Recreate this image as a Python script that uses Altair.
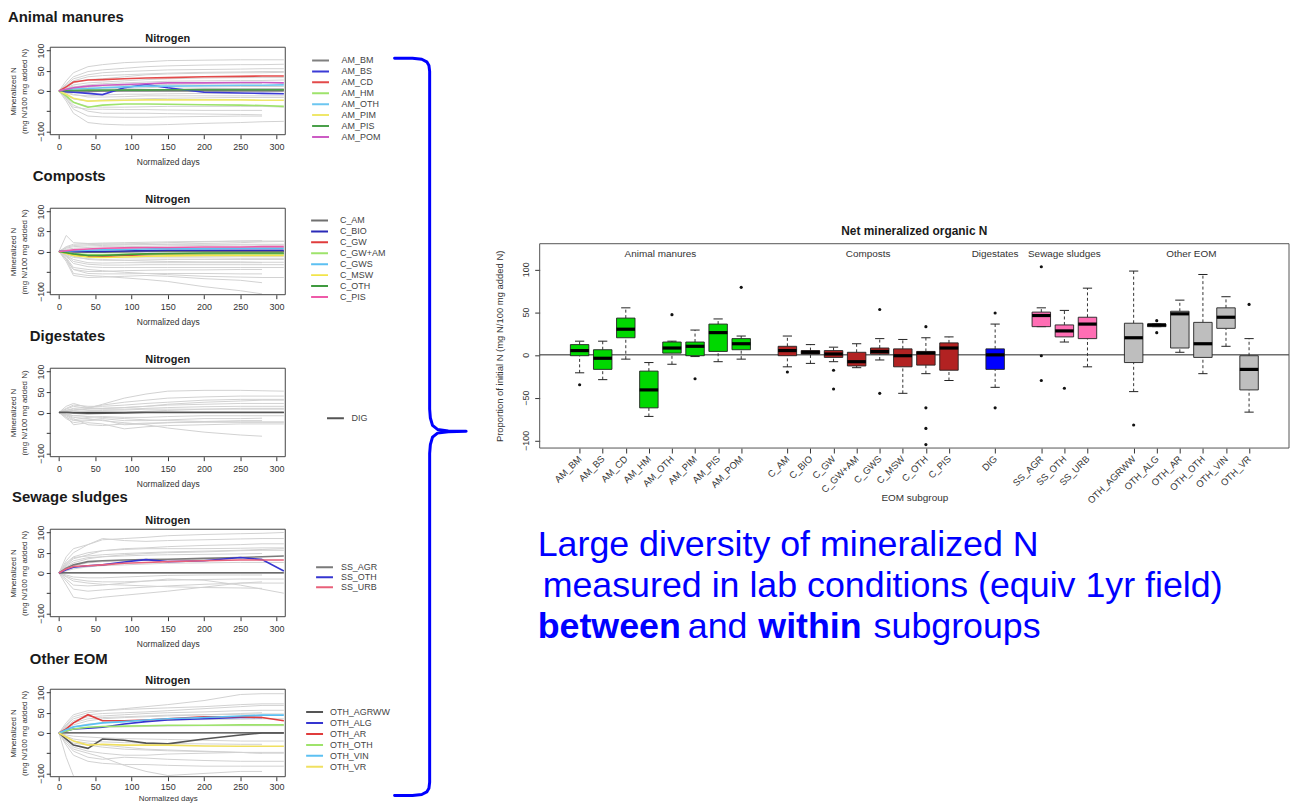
import json
import altair as alt
import pandas as pd

FONT = "Liberation Sans"

# ======================= DATA =======================
# --- left panels: mineralized N (mg N/100 mg added N) vs normalized days ---
DAYS = [0, 10, 20, 40, 60, 90, 120, 150, 200, 250, 280, 310]
LINE_X_TICKS = [0, 50, 100, 150, 200, 250, 300]
LINE_Y_TICKS = [-100, -50, 0, 50, 100]

AM_NAMES = ["AM_BM", "AM_BS", "AM_CD", "AM_HM", "AM_OTH", "AM_PIM", "AM_PIS", "AM_POM"]
AM_MEANS = [
    [0, -2, -3, -2, 0, 2, 3, 3, 4, 4, 4, 4],
    [0, -2, -3, -6, -9, 8, 16, 8, -3, -5, -6, -7],
    [0, 10, 22, 27, 28, 30, 32, 33, 35, 36, 37, 37],
    [0, -12, -28, -40, -35, -32, -32, -33, -34, -35, -36, -38],
    [0, 3, 5, 6, 8, 10, 12, 12, 13, 14, 14, 15],
    [0, -8, -18, -25, -24, -23, -22, -22, -22, -22, -23, -23],
    [0, 1, 1, 2, 2, 2, 2, 3, 3, 3, 3, 3],
    [0, 4, 8, 12, 14, 16, 18, 20, 20, 21, 21, 20],
]
AM_GRAY = [
    [0, 25, 45, 60, 65, 70, 72, 75, 76, 77, 77, 77],
    [0, 18, 35, 48, 52, 56, 60, 62, 64, 65, 65, 66],
    [0, 15, 30, 40, 45, 48, 50, 52, 53, 54, 55, 55],
    [0, 12, 25, 35, 38, 40, 42, 44, 46, 47, 48, 48],
    [0, 10, 20, 28, 30, 35, 40, 42, 44, 45, 45, 46],
    [0, 8, 15, 20, 22, 25, 28, 30, 32, 33, 33, 33],
    [0, 5, 10, 15, 18, 20, 22, 24, 25, 26, 26, 27],
    [0, 6, 12, 8, 5, 6, 8, 10, 10, 11, 11, 11],
    [0, 3, 6, 10, 12, 14, 15, 16, 17, 18, 18, None],
    [0, -3, -8, -15, -15, -14, -12, -12, -12, -12, -12, -12],
    [0, -5, -10, -12, -10, -8, -8, -7, -6, -6, -6, -6],
    [0, -10, -20, -25, -22, -20, -19, -18, -17, -16, -16, -16],
    [0, -12, -28, -38, -40, -40, -39, -38, -38, -38, -38, -40],
    [0, -18, -40, -45, -45, -46, -46, -47, -48, -48, -48, None],
    [0, -15, -35, -50, -55, -55, -55, -56, -57, -58, -59, None],
    [0, -20, -45, -62, -64, -65, -65, -64, -63, -62, -62, None],
    [0, -25, -55, -78, -82, -84, -84, -83, -80, -78, -76, -75],
]

C_NAMES = ["C_AM", "C_BIO", "C_GW", "C_GW+AM", "C_GWS", "C_MSW", "C_OTH", "C_PIS"]
C_MEANS = [
    [0, 0, -1, -2, -2, -1, 0, 0, 0, 0, 0, 0],
    [0, 0, 0, 0, 0, 1, 2, 3, 3, 3, 3, 3],
    [0, -4, -8, -12, -13, -10, -8, -7, -6, -5, -5, -5],
    [0, -3, -6, -8, -8, -7, -6, -6, -6, -6, -6, -6],
    [0, 1, 2, 3, 4, 5, 6, 7, 7, 8, 8, 8],
    [0, -5, -10, -14, -15, -14, -12, -11, -10, -10, -10, -10],
    [0, -3, -6, -10, -10, -8, -6, -5, -4, -4, -4, -4],
    [0, 2, 4, 6, 8, 9, 10, 10, 11, 11, 12, 12],
]
C_GRAY = [
    [0, 40, 22, 20, 19, 18, 18, 18, 18, 18, 18, 18],
    [0, 12, 18, 20, 21, 22, 23, 24, 25, 26, 26, 26],
    [0, 10, 15, 17, 18, 19, 20, 22, 24, 26, 27, None],
    [0, 8, 12, 14, 15, 16, 17, 18, 20, 22, 24, 25],
    [0, 5, 8, 10, 12, 12, 13, 14, 15, 16, 16, 16],
    [0, 2, 3, 4, 5, 6, 7, 8, 9, 10, 10, 10],
    [0, -3, -6, -8, -10, -10, -11, -12, -12, -12, -12, -12],
    [0, -5, -10, -14, -15, -16, -16, -16, -16, -17, -17, -17],
    [0, -5, -12, -20, -22, -22, -21, -20, -20, -20, -20, -20],
    [0, -8, -15, -18, -20, -22, -24, -25, -26, -26, -27, -27],
    [0, -10, -20, -28, -29, -28, -28, -28, -28, -28, -28, None],
    [0, -10, -25, -32, -34, -34, -33, -33, -33, -33, -33, -33],
    [0, -12, -30, -38, -40, -40, -40, -40, -40, -40, -40, -40],
    [0, -20, -45, -50, -50, -48, -47, -46, -46, -45, -45, None],
    [0, -15, -40, -45, -48, -52, -55, -58, -62, -64, -65, -65],
    [0, -18, -45, -55, -56, -56, -55, -55, -55, -56, -56, None],
    [0, -25, -60, -65, -64, -62, -60, -62, -68, -72, -78, None],
    [0, -20, -55, -60, -62, -66, -70, -75, -88, -98, -106, None],
]

DIG_NAMES = ["DIG"]
DIG_MEANS = [
    [0, 0, -1, -2, -2, -1, 0, 0, 0, 0, 0, 0],
]
DIG_GRAY = [
    [0, 2, 5, 10, 20, 35, 45, 52, 54, 54, 53, 52],
    [0, 5, 10, 12, 18, 25, 30, 35, 38, 40, 40, 40],
    [0, 10, 18, 15, 15, 18, 22, 25, 30, 32, 32, 32],
    [0, 15, 22, 12, 10, 12, 15, 20, 25, 28, 30, 30],
    [0, 3, 5, 8, 10, 12, 15, 18, 20, 22, 22, 22],
    [0, 8, 15, 10, 8, 8, 10, 12, 14, 15, 15, 15],
    [0, 5, 8, 5, 5, 6, 8, 8, 8, 8, 8, 8],
    [0, -5, -8, -5, -3, 0, 3, 5, 8, 10, 10, 10],
    [0, -8, -18, -12, -10, -12, -12, -10, -8, -8, -8, -8],
    [0, -12, -20, -18, -15, -20, -20, -18, -15, -15, -14, None],
    [0, -3, -8, -10, -12, -15, -18, -20, -22, -23, -23, -23],
    [0, -6, -15, -30, -32, -28, -26, -25, -24, -24, -24, -24],
    [0, -15, -25, -20, -18, -30, -28, -25, -22, -20, -20, None],
    [0, -10, -30, -25, -28, -40, -35, -32, -30, -28, -28, -28],
    [0, -5, -12, -15, -20, -25, -30, -38, -48, -55, -58, None],
]

SS_NAMES = ["SS_AGR", "SS_OTH", "SS_URB"]
SS_MEANS = [
    [0, 12, 20, 28, 30, 32, 33, 34, 36, 38, 40, 42],
    [0, 8, 14, 18, 20, 27, 33, 28, 30, 38, 33, 5],
    [0, 10, 16, 18, 20, 24, 26, 28, 30, 32, 32, 32],
]
SS_GRAY = [
    [0, 40, 60, 70, 82, 85, 88, 92, 95, 97, 98, 100],
    [0, 30, 50, 70, 85, 80, 78, 80, 82, 84, 85, 85],
    [0, 20, 35, 45, 55, 60, 62, 65, 68, 70, 72, 72],
    [0, 25, 40, 50, 55, 58, 60, 60, 60, 61, 62, 62],
    [0, 22, 38, 42, 45, 48, 50, 52, 54, 56, 58, 60],
    [0, 15, 25, 35, 40, 45, 48, 50, 52, 55, 56, 56],
    [0, 18, 30, 38, 40, 42, 44, 45, 46, 47, 48, None],
    [0, 10, 18, 25, 28, 30, 32, 33, 34, 35, 35, None],
    [0, 5, 10, 15, 18, 20, 22, 24, 25, 26, 26, 26],
    [0, -5, -10, -12, -12, -10, -8, -6, -5, -5, -5, None],
    [0, -8, -15, -20, -22, -22, -20, -18, -16, -15, -15, -15],
    [0, -10, -20, -25, -28, -30, -32, -34, -36, -37, -38, None],
    [0, -15, -30, -32, -30, -25, -20, -15, -18, -30, -40, -50],
    [0, -20, -40, -45, -42, -38, -35, -32, -28, -25, -25, -25],
    [0, -30, -60, -65, -60, -55, -50, -45, -35, -25, -22, None],
]

OTH_NAMES = ["OTH_AGRWW", "OTH_ALG", "OTH_AR", "OTH_OTH", "OTH_VIN", "OTH_VR"]
OTH_MEANS = [
    [0, -15, -30, -38, -15, -18, -25, -27, -15, -5, 0, 0],
    [0, 5, 10, 12, 14, 22, 28, 32, 35, 38, 38, None],
    [0, 10, 25, 45, 30, 30, 32, 35, 40, 40, 38, 30],
    [0, 5, 10, 14, 16, 17, 18, 19, 19, 20, 20, 20],
    [0, 8, 15, 20, 25, 28, 32, 35, 38, 42, 44, 44],
    [0, -10, -20, -30, -28, -30, -30, -30, -32, -33, -33, -33],
]
OTH_GRAY = [
    [0, 20, 40, 50, 55, 60, 65, 70, 80, 95, 97, 97],
    [0, 25, 45, 55, 55, 58, 60, 62, 65, 70, 72, 72],
    [0, 18, 35, 45, 48, 50, 52, 55, 60, 65, 68, 68],
    [0, 15, 30, 40, 42, 45, 48, 50, 52, 55, 56, 56],
    [0, 12, 25, 35, 38, 40, 42, 44, 45, 46, 47, 47],
    [0, 10, 20, 30, 35, 38, 40, 42, 45, 48, 50, None],
    [0, 8, 15, 22, 25, 28, 30, 32, 33, 34, 35, 35],
    [0, 5, 10, 12, 14, 15, 16, 17, 18, 18, 18, 18],
    [0, -5, -8, -10, -12, -14, -15, -16, -18, -20, -20, -20],
    [0, -8, -15, -20, -22, -24, -25, -26, -27, -28, -28, None],
    [0, -10, -20, -25, -30, -35, -40, -42, -45, -48, -50, -50],
    [0, -15, -25, -30, -35, -40, -42, -44, -46, -48, -50, None],
    [0, -15, -35, -45, -50, -55, -55, -52, -50, -48, -48, -48],
    [0, -25, -45, -60, -65, -60, -62, -65, -68, -70, -70, -70],
    [0, -30, -55, -70, -75, -78, -78, -80, -82, -82, -82, -82],
    [0, -20, -40, -50, -60, -80, -95, -105, -100, -95, -95, None],
    [0, -60, -106, None, None, None, None, None, None, None, None, None],
]

PANEL_TITLES = ["Animal manures", "Composts", "Digestates", "Sewage sludges", "Other EOM"]

# --- right: boxplot of net mineralized organic N per EOM subgroup ---
BOX_NAMES = ["AM_BM", "AM_BS", "AM_CD", "AM_HM", "AM_OTH", "AM_PIM", "AM_PIS", "AM_POM",
             "C_AM", "C_BIO", "C_GW", "C_GW+AM", "C_GWS", "C_MSW", "C_OTH", "C_PIS",
             "DIG",
             "SS_AGR", "SS_OTH", "SS_URB",
             "OTH_AGRWW", "OTH_ALG", "OTH_AR", "OTH_OTH", "OTH_VIN", "OTH_VR"]
BOX_POS = [1, 2, 3, 4, 5, 6, 7, 8,
           10, 11, 12, 13, 14, 15, 16, 17,
           19,
           21, 22, 23,
           25, 26, 27, 28, 29, 30]
BOX_GROUP = ["Animal manures"] * 8 + ["Composts"] * 8 + ["Digestates"] + \
            ["Sewage sludges"] * 3 + ["Other EOM"] * 6
BOX_LO = [-21, -29, -5, -72, -11, -2, -8, -5,
          -14, -10, -8, -15, -6, -45, -22, -30,
          -38,
          33, 15, -14,
          -43, 33, 3, -22, 10, -67]
BOX_Q1 = [-1, -17, 20, -62, 2, -1, 4, 6,
          -1, 1, -3, -13, 1, -14, -12, -18,
          -17,
          33, 21, 19,
          -9, 33, 8, -3, 31, -41]
BOX_MED = [5, -4, 30, -41, 8, 10, 26, 13,
           5, 3, 1, -8, 4, -1, 2, 8,
           0,
           46, 28, 36,
           20, 35, 48, 13, 44, -17]
BOX_Q3 = [12, 6, 43, -19, 15, 15, 36, 19,
          10, 5, 5, 3, 8, 7, 4, 14,
          7,
          50, 35, 44,
          37, 36, 51, 38, 55, -1]
BOX_HI = [16, 16, 55, -9, 16, 29, 42, 22,
          22, 12, 9, 13, 19, 18, 20, 21,
          36,
          55, 52, 78,
          98, 36, 64, 94, 68, 19]
BOX_OUT = [[-35], [], [], [], [47], [-28], [], [79],
           [-20], [], [-18, -40], [], [53, -45], [], [33, -62, -86, -105], [],
           [49, -62],
           [103, -1, -30], [-39], [],
           [-82], [40, 26], [], [], [], [59]]
GROUP_NAMES = ["Animal manures", "Composts", "Digestates", "Sewage sludges", "Other EOM"]
BOX_Y_TICKS = [-100, -50, 0, 50, 100]

# --- annotation text ---
NOTE_LINE1 = "Large diversity of mineralized N"
NOTE_LINE2 = " measured in lab conditions (equiv 1yr field)"
NOTE_LINE3 = ["between", "and", "within", "subgroups"]
NOTE_LINE3_BOLD = [True, False, True, False]

# --- brace shape (unit coordinates) ---
BRACE_U = [0.00, 0.25, 0.38, 0.45, 0.48, 0.49, 0.49, 0.50, 0.53, 0.60, 0.75, 1.00,
           0.75, 0.60, 0.53, 0.50, 0.49, 0.49, 0.48, 0.45, 0.38, 0.25, 0.00]
BRACE_V = [0.000, 0.000, 0.0015, 0.005, 0.010, 0.018, 0.476, 0.488, 0.498, 0.5035, 0.5055, 0.506,
           0.5065, 0.5085, 0.514, 0.524, 0.536, 0.982, 0.990, 0.995, 0.9985, 1.000, 1.000]

# ======================= STYLE / LAYOUT =======================
AM_COLORS = ["#808080", "#3b3bd6", "#e34a4a", "#9ee36b", "#6cc6f0", "#efe76a", "#4aa04a", "#cc5bc4"]
C_COLORS = ["#707070", "#2a2ab8", "#e03c3c", "#9ee36b", "#5cc0f2", "#f2e44a", "#3f9a3f", "#ee5aa8"]
DIG_COLORS = ["#555555"]
SS_COLORS = ["#7a7a7a", "#3535d0", "#e8607a"]
OTH_COLORS = ["#555555", "#3535d0", "#e03c3c", "#9ee36b", "#5cc0f2", "#f0e060"]
GROUP_COLORS = {"Animal manures": "#00d800", "Composts": "#b22222", "Digestates": "#0000ff",
                "Sewage sludges": "#ff6eb4", "Other EOM": "#bebebe"}
BLUE = "#0000ff"

OX, OY = 8, 8
W, H = 1291, 797


def cx(p):
    return p - OX


def cy(p):
    return p - OY


LX0, LX1 = 50.5, 287.0
XL_DOM = [-12, 312]
YL_DOM = [-108, 108]

PANEL_LAYOUT = [
    dict(top=45, bot=133, head_x=8, head_y=20, leg_x=313, leg_y0=58.3, row=10.5, lab_off=11.7,
         xt_y=30, xl_pad=4, xt_size=8.5),
    dict(top=207, bot=294, head_x=33, head_y=180, leg_x=312, leg_y0=219.3, row=10.96, lab_off=11,
         xt_y=30, xl_pad=4, xt_size=8.5),
    dict(top=368, bot=457, head_x=30, head_y=341, leg_x=328, leg_y0=418.3, row=10, lab_off=6.7,
         xt_y=30, xl_pad=4, xt_size=8.5),
    dict(top=530, bot=618, head_x=12, head_y=502.7, leg_x=317, leg_y0=568.3, row=7.5, lab_off=7,
         xt_y=30, xl_pad=4, xt_size=8.5),
    dict(top=691, bot=779, head_x=30, head_y=665.5, leg_x=307, leg_y0=714, row=10.86, lab_off=6,
         xt_y=23.5, xl_pad=2, xt_size=8),
]

PANEL_DATA = [
    (AM_NAMES, AM_MEANS, AM_GRAY, AM_COLORS),
    (C_NAMES, C_MEANS, C_GRAY, C_COLORS),
    (DIG_NAMES, DIG_MEANS, DIG_GRAY, DIG_COLORS),
    (SS_NAMES, SS_MEANS, SS_GRAY, SS_COLORS),
    (OTH_NAMES, OTH_MEANS, OTH_GRAY, OTH_COLORS),
]


def one_row(**kw):
    return pd.DataFrame({k: [v] for k, v in kw.items()})


def text_layer(txt, x, y, size, bold=False, align="left", color="#1a1a1a", baseline="alphabetic"):
    return alt.Chart(one_row(t=txt)).mark_text(
        font=FONT, fontSize=size, fontWeight="bold" if bold else "normal",
        align=align, baseline=baseline, color=color
    ).encode(x=alt.value(x), y=alt.value(y), text="t:N")


def line_panel(title, names, means, gray, colors, lay):
    top, bot = lay["top"], lay["bot"]
    xs = alt.Scale(domain=XL_DOM, range=[cx(LX0), cx(LX1)], nice=False, zero=False)
    ys = alt.Scale(domain=YL_DOM, range=[cy(bot), cy(top)], nice=False, zero=False)
    out = []
    grows = [dict(day=d, val=v, cid=i) for i, c in enumerate(gray)
             for d, v in zip(DAYS, c) if v is not None]
    out.append(alt.Chart(pd.DataFrame(grows)).mark_line(color="#d2d2d2", strokeWidth=1).encode(
        x=alt.X("day:Q", scale=xs, axis=None),
        y=alt.Y("val:Q", scale=ys, axis=None),
        detail="cid:N"))
    out.append(alt.Chart(one_row(d0=DAYS[0], d1=DAYS[-1], z=0)).mark_rule(
        color="#3a3a3a", strokeWidth=1.3).encode(
        x=alt.X("d0:Q", scale=xs, axis=None), x2="d1:Q",
        y=alt.Y("z:Q", scale=ys, axis=None)))
    mrows = [dict(day=d, val=v, name=n) for n, c in zip(names, means)
             for d, v in zip(DAYS, c) if v is not None]
    legend = alt.Legend(
        orient="none", legendX=cx(lay["leg_x"]), legendY=cy(lay["leg_y0"] - lay["row"] / 2),
        title=None, symbolType="stroke", symbolSize=289, symbolStrokeWidth=2,
        labelFont=FONT, labelFontSize=9, labelColor="#444", clipHeight=lay["row"],
        rowPadding=0, padding=0, labelOffset=lay["lab_off"])
    out.append(alt.Chart(pd.DataFrame(mrows)).mark_line(strokeWidth=1.6).encode(
        x=alt.X("day:Q", scale=xs, axis=None),
        y=alt.Y("val:Q", scale=ys, axis=None),
        color=alt.Color("name:N", scale=alt.Scale(domain=names, range=colors), legend=legend)))
    xaxis = alt.Axis(
        orient="bottom", offset=cy(bot) - H, values=LINE_X_TICKS, grid=False, domain=False,
        tickSize=4, tickColor="#333", labelPadding=lay["xl_pad"], labelFont=FONT, labelFontSize=9,
        labelColor="#333", labelFlush=False, labelOverlap=False,
        title="Normalized days", titleFont=FONT, titleFontSize=lay["xt_size"], titleFontWeight="normal",
        titleColor="#333", titleY=lay["xt_y"], titleBaseline="alphabetic")
    yaxis = alt.Axis(
        orient="left", offset=-cx(LX0), values=LINE_Y_TICKS, grid=False, domain=False,
        tickSize=4, tickColor="#333", labelAngle=270, labelAlign="center", labelBaseline="bottom",
        labelPadding=1, labelFont=FONT, labelFontSize=9, labelColor="#333",
        labelFlush=False, labelOverlap=False,
        labelExpr="datum.value == -50 ? '' : datum.label",
        title=["Mineralized N", "(mg N/100 mg added N)"], titleFont=FONT, titleFontSize=8,
        titleFontWeight="normal", titleColor="#333", titleAngle=270, titleAlign="center",
        titleBaseline="top", titleLineHeight=11, titleX=10 - LX0, titleY=cy((top + bot) / 2))
    out.append(alt.Chart(one_row(x0=XL_DOM[0], x1=XL_DOM[1], y0=YL_DOM[0], y1=YL_DOM[1])).mark_rect(
        fill="white", fillOpacity=0, stroke="#444", strokeWidth=1).encode(
        x=alt.X("x0:Q", scale=xs, axis=xaxis), x2="x1:Q",
        y=alt.Y("y0:Q", scale=ys, axis=yaxis), y2="y1:Q"))
    out.append(text_layer(title, cx(lay["head_x"]), cy(lay["head_y"]), 15, bold=True))
    out.append(text_layer("Nitrogen", cx((LX0 + LX1) / 2), cy(top - 5), 11, bold=True, align="center"))
    return out


layers = []
for title, (names, means, gray, colors), lay in zip(PANEL_TITLES, PANEL_DATA, PANEL_LAYOUT):
    layers += line_panel(title, names, means, gray, colors, lay)

# ---------------- brace ----------------
brace_df = pd.DataFrame({"u": BRACE_U, "v": BRACE_V, "k": list(range(len(BRACE_U)))})
layers.append(alt.Chart(brace_df).mark_line(color=BLUE, strokeWidth=3, strokeJoin="round",
                                            strokeCap="round").encode(
    x=alt.X("u:Q", scale=alt.Scale(domain=[0, 1], range=[cx(397), cx(469)], nice=False, zero=False), axis=None),
    y=alt.Y("v:Q", scale=alt.Scale(domain=[0, 1], range=[cy(56), cy(798)], nice=False, zero=False), axis=None),
    order="k:Q"))

# ---------------- boxplot ----------------
BX0, BX1, BY_TOP, BY_BOT = 543, 1297, 242.7, 448.3
BX_DOM = [-0.73, 31.73]
BY_DOM = [-109, 130]
BOX_HALF = 0.4     # half box width (R boxwex 0.8)
CAP_HALF = 0.2     # half staple width
bxs = alt.Scale(domain=BX_DOM, range=[cx(BX0), cx(BX1)], nice=False, zero=False)
bys = alt.Scale(domain=BY_DOM, range=[cy(BY_BOT), cy(BY_TOP)], nice=False, zero=False)

box_df = pd.DataFrame({"name": BOX_NAMES, "pos": BOX_POS, "grp": BOX_GROUP,
                       "lo": BOX_LO, "q1": BOX_Q1, "med": BOX_MED, "q3": BOX_Q3, "hi": BOX_HI})
box_df["col"] = box_df["grp"].map(GROUP_COLORS)
out_df = pd.DataFrame([dict(pos=p, val=v) for p, outs in zip(BOX_POS, BOX_OUT) for v in outs])
grp_df = box_df.groupby("grp", sort=False)["pos"].mean().reset_index()

slot_names = [""] * (max(BOX_POS) + 1)
for n, p in zip(BOX_NAMES, BOX_POS):
    slot_names[p] = n

bx_axis = alt.Axis(
    orient="bottom", offset=cy(BY_BOT) - H, values=BOX_POS, grid=False, domain=False,
    tickSize=5, tickColor="#333", labelExpr=json.dumps(slot_names) + "[datum.value]",
    labelAngle=315, labelAlign="right", labelBaseline="middle", labelPadding=4,
    labelFont=FONT, labelFontSize=9.5, labelColor="#333", labelOverlap=False, labelFlush=False,
    title="EOM subgroup", titleFont=FONT, titleFontSize=10, titleFontWeight="normal",
    titleColor="#333", titleY=53, titleBaseline="alphabetic")
by_axis = alt.Axis(
    orient="left", offset=-cx(BX0), values=BOX_Y_TICKS, grid=False, domain=False,
    tickSize=5, tickColor="#333", labelAngle=270, labelAlign="center", labelBaseline="bottom",
    labelPadding=4, labelFont=FONT, labelFontSize=9, labelColor="#333",
    labelOverlap=False, labelFlush=False,
    title="Proportion of initial N (mg N/100 mg added N)", titleFont=FONT, titleFontSize=9.5,
    titleFontWeight="normal", titleColor="#333", titleAngle=270, titleAlign="center",
    titleBaseline="middle", titleX=503 - BX0, titleY=cy((BY_TOP + BY_BOT) / 2))

box_base = alt.Chart(box_df).transform_calculate(
    bx0=f"datum.pos - {BOX_HALF}", bx1=f"datum.pos + {BOX_HALF}",
    cx0=f"datum.pos - {CAP_HALF}", cx1=f"datum.pos + {CAP_HALF}")

layers.append(alt.Chart(one_row(x0=BX_DOM[0], x1=BX_DOM[1], z=0)).mark_rule(
    color="#222", strokeWidth=1).encode(
    x=alt.X("x0:Q", scale=bxs, axis=None), x2="x1:Q", y=alt.Y("z:Q", scale=bys, axis=None)))
layers.append(box_base.mark_rule(color="#333", strokeWidth=1, strokeDash=[3, 2.5]).encode(
    x=alt.X("pos:Q", scale=bxs, axis=None), y=alt.Y("lo:Q", scale=bys, axis=None), y2="q1:Q"))
layers.append(box_base.mark_rule(color="#333", strokeWidth=1, strokeDash=[3, 2.5]).encode(
    x=alt.X("pos:Q", scale=bxs, axis=None), y=alt.Y("q3:Q", scale=bys, axis=None), y2="hi:Q"))
for fld in ["lo", "hi"]:
    layers.append(box_base.mark_rule(color="#222", strokeWidth=1).encode(
        x=alt.X("cx0:Q", scale=bxs, axis=None), x2="cx1:Q",
        y=alt.Y(f"{fld}:Q", scale=bys, axis=None)))
layers.append(box_base.mark_rect(stroke="#222", strokeWidth=0.9, opacity=1).encode(
    x=alt.X("bx0:Q", scale=bxs, axis=None), x2="bx1:Q",
    y=alt.Y("q1:Q", scale=bys, axis=None), y2="q3:Q",
    color=alt.Color("col:N", scale=None, legend=None)))
layers.append(box_base.mark_rule(color="#000", strokeWidth=3.2).encode(
    x=alt.X("bx0:Q", scale=bxs, axis=None), x2="bx1:Q",
    y=alt.Y("med:Q", scale=bys, axis=None)))
layers.append(alt.Chart(out_df).mark_circle(size=10, color="#111", opacity=1).encode(
    x=alt.X("pos:Q", scale=bxs, axis=None), y=alt.Y("val:Q", scale=bys, axis=None)))
layers.append(alt.Chart(one_row(x0=BX_DOM[0], x1=BX_DOM[1], y0=BY_DOM[0], y1=BY_DOM[1])).mark_rect(
    fill="white", fillOpacity=0, stroke="#555", strokeWidth=1).encode(
    x=alt.X("x0:Q", scale=bxs, axis=bx_axis), x2="x1:Q",
    y=alt.Y("y0:Q", scale=bys, axis=by_axis), y2="y1:Q"))
layers.append(alt.Chart(grp_df).mark_text(font=FONT, fontSize=10, color="#333", align="center",
                                          baseline="alphabetic").encode(
    x=alt.X("pos:Q", scale=bxs, axis=None), y=alt.value(cy(256.5)), text="grp:N"))
layers.append(text_layer("Net mineralized organic N", cx((BX0 + BX1) / 2), cy(234), 12,
                         bold=True, align="center"))

# ---------------- annotation ----------------
NOTE_SIZE = 36
layers.append(text_layer(NOTE_LINE1, cx(541), cy(557), NOTE_SIZE, color=BLUE))
# leading blank of the second line is rendered as a small indent
layers.append(text_layer(NOTE_LINE2.strip(), cx(546), cy(598), NOTE_SIZE, color=BLUE))
NOTE_LINE3_X = [541, 692, 763, 879]
for seg, b, xp in zip(NOTE_LINE3, NOTE_LINE3_BOLD, NOTE_LINE3_X):
    layers.append(text_layer(seg, cx(xp), cy(639), NOTE_SIZE, bold=b, color=BLUE))

chart = alt.layer(*layers).resolve_scale(
    x="independent", y="independent", color="independent"
).properties(
    width=W, height=H, padding=0, autosize=alt.AutoSizeParams(type="none")
).configure(font=FONT).configure_view(strokeWidth=0)

chart.save("out.html", embed_options={"renderer": "svg", "actions": False})
